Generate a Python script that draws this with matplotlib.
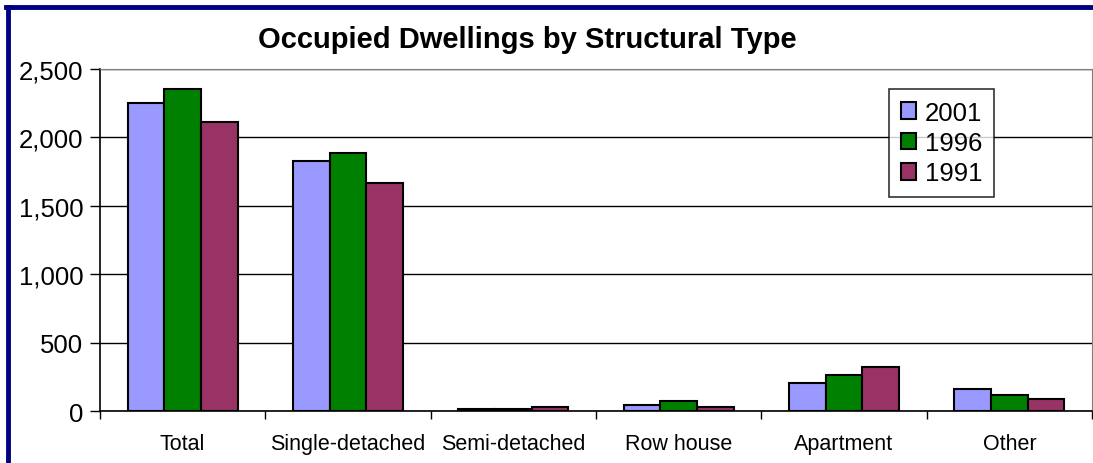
import matplotlib.pyplot as plt
import numpy as np

plt.rcParams['font.family'] = ['Liberation Sans', 'DejaVu Sans']

# data
categories = ["Total", "Single-detached", "Semi-detached", "Row house", "Apartment", "Other"]
years = ["2001", "1996", "1991"]
v2001 = [2250, 1825, 15, 45, 205, 160]
v1996 = [2355, 1885, 15, 75, 265, 115]
v1991 = [2115, 1665, 30, 30, 320, 90]
colors = ["#9999FF", "#008000", "#993366"]

fig = plt.figure(figsize=(10.93, 4.64), dpi=100)
ax = fig.add_axes([100/1093, 1 - 412/464, 992/1093, 342/464])

x = np.arange(len(categories))
w = 1 / 4.5
for i, vals in enumerate([v2001, v1996, v1991]):
    ax.bar(x + (i - 1) * w, vals, w, color=colors[i], edgecolor="black",
           linewidth=1.5, label=years[i], zorder=3)

ax.set_xlim(-0.5, len(categories) - 0.5)
ax.set_ylim(0, 2500)
ax.set_yticks(np.arange(0, 2501, 500))
ax.set_yticklabels([f"{v:,}" for v in range(0, 2501, 500)], fontsize=18.5)
ax.yaxis.grid(True, color="black", linewidth=1, zorder=0)

ax.set_xticks(x)
ax.set_xticklabels(categories, fontsize=15.5)
ax.set_xticks(np.arange(-0.5, len(categories)), minor=True)
ax.tick_params(axis="x", which="major", length=0, pad=16)
ax.tick_params(axis="x", which="minor", length=6, width=1)
ax.tick_params(axis="y", length=7, width=1, pad=5)

for s in ["top", "right"]:
    ax.spines[s].set_color("#808080")
ax.spines["left"].set_linewidth(1.2)
ax.spines["bottom"].set_linewidth(1.2)

leg = ax.legend(loc="upper left", bbox_to_anchor=(789/992, 1 - 20/342), fontsize=18.5,
                frameon=True, fancybox=False, edgecolor="black", handlelength=0.6,
                handleheight=0.6, handletextpad=0.35, labelspacing=0.25, borderpad=0.45,
                borderaxespad=0)
leg.get_frame().set_linewidth(1.2)

fig.text(527/1093, 1 - 40/464, "Occupied Dwellings by Structural Type", fontsize=21,
         fontweight="bold", ha="center", va="center")

# blue frame around the chart
fig.add_artist(plt.Line2D([8/1093, 8/1093], [0, 1 - 8/464], color="#000080", linewidth=3.5))
fig.add_artist(plt.Line2D([6/1093, 1], [1 - 8/464, 1 - 8/464], color="#000080", linewidth=3.5))

fig.savefig("out.png", dpi=100)
